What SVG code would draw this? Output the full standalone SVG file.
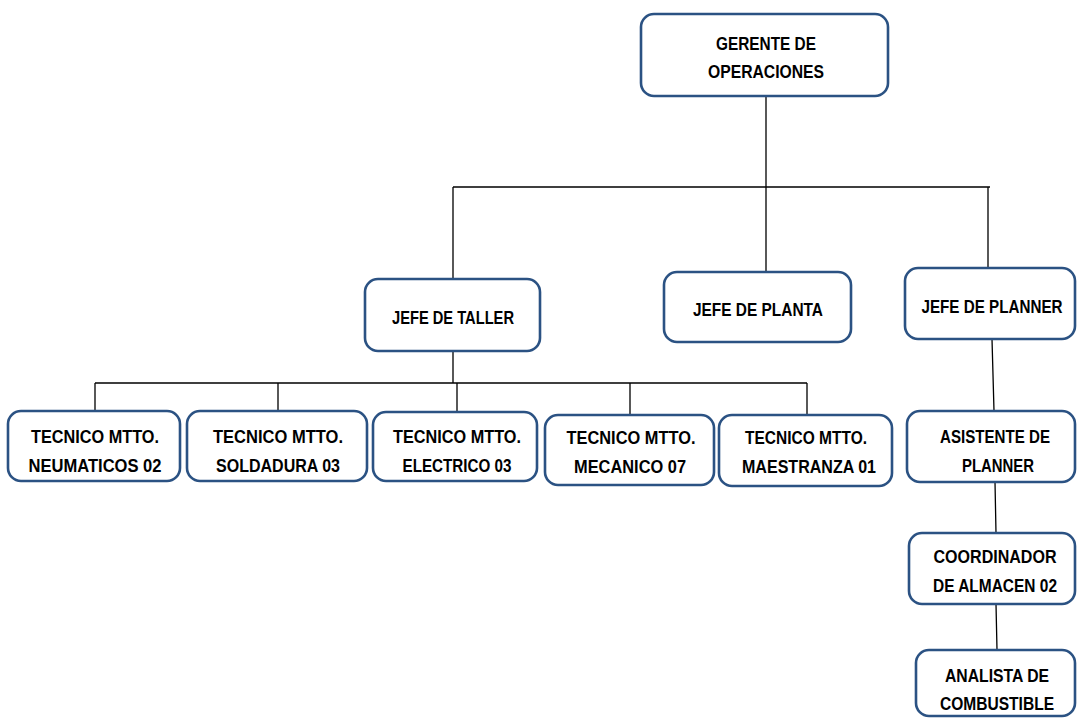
<svg xmlns="http://www.w3.org/2000/svg" width="1077" height="718" viewBox="0 0 1077 718">
<style>
.box{fill:#ffffff;stroke:#2b5283;stroke-width:2.6}
.t{font-family:"Liberation Sans",Arial,sans-serif;font-weight:bold;font-size:19px;fill:#000;text-anchor:middle}
.c{stroke:#000;stroke-width:1.3;fill:none}
</style>
<rect width="1077" height="718" fill="#ffffff"/>
<g id="connectors">
<path class="c" d="M766 96V187M453 187H990M453 187V279M766 187V272M988 187V268"/>
<path class="c" d="M453 351V383M95 383H807M95 383V411M278 383V411M457 383V412M630 383V415M807 383V415"/>
<path class="c" d="M992 339L994 411M995 482L996 533M996 604L997 650"/>
</g>
<g id="gerente">
<rect class="box" x="641" y="14" width="247" height="82" rx="13"/>
<text class="t" x="766" y="50" textLength="100" lengthAdjust="spacingAndGlyphs">GERENTE DE</text>
<text class="t" x="766" y="78" textLength="116" lengthAdjust="spacingAndGlyphs">OPERACIONES</text>
</g>
<g id="jefe-taller">
<rect class="box" x="365" y="279" width="175" height="72" rx="13"/>
<text class="t" x="453" y="324" textLength="122" lengthAdjust="spacingAndGlyphs">JEFE DE TALLER</text>
</g>
<g id="jefe-planta">
<rect class="box" x="664" y="272" width="187" height="70" rx="13"/>
<text class="t" x="758" y="316" textLength="130" lengthAdjust="spacingAndGlyphs">JEFE DE PLANTA</text>
</g>
<g id="jefe-planner">
<rect class="box" x="905" y="268" width="170" height="71" rx="13"/>
<text class="t" x="992" y="313" textLength="141" lengthAdjust="spacingAndGlyphs">JEFE DE PLANNER</text>
</g>
<g id="tec-neumaticos">
<rect class="box" x="8" y="411" width="172" height="70" rx="13"/>
<text class="t" x="95" y="443" textLength="128" lengthAdjust="spacingAndGlyphs">TECNICO MTTO.</text>
<text class="t" x="95" y="472" textLength="133" lengthAdjust="spacingAndGlyphs">NEUMATICOS 02</text>
</g>
<g id="tec-soldadura">
<rect class="box" x="187" y="411" width="180" height="70" rx="13"/>
<text class="t" x="278" y="443" textLength="130" lengthAdjust="spacingAndGlyphs">TECNICO MTTO.</text>
<text class="t" x="278" y="472" textLength="124" lengthAdjust="spacingAndGlyphs">SOLDADURA 03</text>
</g>
<g id="tec-electrico">
<rect class="box" x="373" y="412" width="164" height="69" rx="13"/>
<text class="t" x="457" y="443" textLength="128" lengthAdjust="spacingAndGlyphs">TECNICO MTTO.</text>
<text class="t" x="457" y="472" textLength="109" lengthAdjust="spacingAndGlyphs">ELECTRICO 03</text>
</g>
<g id="tec-mecanico">
<rect class="box" x="545" y="415" width="169" height="70" rx="13"/>
<text class="t" x="631" y="444" textLength="129" lengthAdjust="spacingAndGlyphs">TECNICO MTTO.</text>
<text class="t" x="630" y="473" textLength="112" lengthAdjust="spacingAndGlyphs">MECANICO 07</text>
</g>
<g id="tec-maestranza">
<rect class="box" x="719" y="415" width="173" height="71" rx="13"/>
<text class="t" x="806" y="444" textLength="122" lengthAdjust="spacingAndGlyphs">TECNICO MTTO.</text>
<text class="t" x="809" y="473" textLength="134" lengthAdjust="spacingAndGlyphs">MAESTRANZA 01</text>
</g>
<g id="asistente-planner">
<rect class="box" x="907" y="411" width="168" height="71" rx="13"/>
<text class="t" x="995" y="443" textLength="110" lengthAdjust="spacingAndGlyphs">ASISTENTE DE</text>
<text class="t" x="998" y="472" textLength="72" lengthAdjust="spacingAndGlyphs">PLANNER</text>
</g>
<g id="coordinador-almacen">
<rect class="box" x="909" y="533" width="166" height="71" rx="13"/>
<text class="t" x="995" y="563" textLength="123" lengthAdjust="spacingAndGlyphs">COORDINADOR</text>
<text class="t" x="995" y="592" textLength="124" lengthAdjust="spacingAndGlyphs">DE ALMACEN 02</text>
</g>
<g id="analista-combustible">
<rect class="box" x="916" y="650" width="159" height="66" rx="13"/>
<text class="t" x="997" y="682" textLength="104" lengthAdjust="spacingAndGlyphs">ANALISTA DE</text>
<text class="t" x="997" y="710" textLength="114" lengthAdjust="spacingAndGlyphs">COMBUSTIBLE</text>
</g>
</svg>
